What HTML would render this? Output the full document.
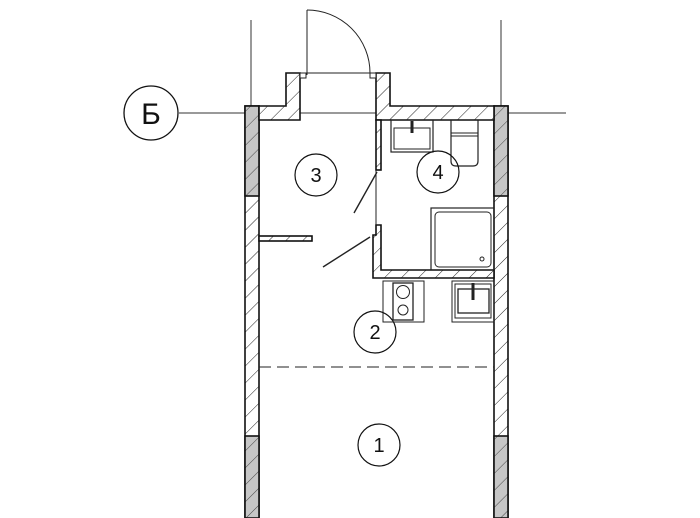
<!DOCTYPE html>
<html><head><style>html,body{margin:0;padding:0;background:#fff}svg{display:block}</style></head>
<body>
<svg width="700" height="518" viewBox="0 0 700 518" xmlns="http://www.w3.org/2000/svg">
<defs>
<pattern id="h" patternUnits="userSpaceOnUse" width="12" height="12" patternTransform="rotate(45)">
<rect width="12" height="12" fill="#fff"/><line x1="0" y1="0" x2="0" y2="12" stroke="#222" stroke-width="1"/>
</pattern>
<pattern id="hg" patternUnits="userSpaceOnUse" width="12" height="12" patternTransform="rotate(45)">
<rect width="12" height="12" fill="#c6c6c6"/><line x1="0" y1="0" x2="0" y2="12" stroke="#444" stroke-width="1"/>
</pattern>
</defs>
<g stroke="#333" stroke-width="1" fill="none">
<line x1="251" y1="20" x2="251" y2="518"/>
<line x1="501" y1="20" x2="501" y2="518"/>
<line x1="179" y1="113" x2="566" y2="113"/>
</g>
<circle cx="151" cy="113" r="27" fill="#fff" stroke="#111" stroke-width="1.3"/>
<text x="151" y="124" font-family="Liberation Sans, DejaVu Sans, sans-serif" font-size="30" text-anchor="middle" fill="#111">Б</text>
<g stroke="#111" stroke-width="1.6">
<rect x="245" y="106" width="14" height="412" fill="url(#h)"/>
<rect x="245" y="106" width="14" height="90" fill="url(#hg)"/>
<rect x="245" y="436" width="14" height="82" fill="url(#hg)"/>
<rect x="494" y="106" width="14" height="412" fill="url(#h)"/>
<rect x="494" y="106" width="14" height="90" fill="url(#hg)"/>
<rect x="494" y="436" width="14" height="82" fill="url(#hg)"/>
<path d="M259 106 H286 V73 H300 V120 H259 Z" fill="url(#h)"/>
<path d="M376 73 H390 V106 H494 V120 H376 Z" fill="url(#h)"/>
<rect x="376" y="120" width="5" height="50" fill="url(#h)"/>
<path d="M376 225 H381 V270 H494 V278 H373 V235 H376 Z" fill="url(#h)"/>
<rect x="259" y="236" width="53" height="5" fill="url(#h)"/>
</g>
<g stroke="#222" stroke-width="1" fill="none">
<rect x="300" y="73" width="6" height="5" fill="#fff"/>
<rect x="370" y="73" width="6" height="5" fill="#fff"/>
<line x1="307" y1="10" x2="307" y2="75"/>
<line x1="306" y1="73" x2="370" y2="73"/>
<path d="M307 10 A63 63 0 0 1 370 73"/>
<line x1="376" y1="170" x2="376" y2="225"/>
<line x1="377" y1="172" x2="354" y2="213" stroke-width="1.4"/>
<line x1="370" y1="237" x2="323" y2="267" stroke-width="1.4"/>
<line x1="259" y1="367" x2="494" y2="367" stroke-dasharray="12,6"/>
<rect x="391" y="120" width="42" height="32" stroke-width="1.2"/>
<rect x="394" y="128" width="36" height="21"/>
<line x1="412" y1="121" x2="412" y2="133" stroke-width="3"/>
<path d="M451 120 V161 Q451 166 456 166 H473 Q478 166 478 161 V120" stroke-width="1.2"/>
<line x1="451" y1="133" x2="478" y2="133"/>
<line x1="451" y1="136" x2="478" y2="136"/>
<rect x="431" y="208" width="63" height="62" stroke-width="1.2"/>
<rect x="435" y="212" width="56" height="55" rx="4"/>
<circle cx="482" cy="259" r="2"/>
<rect x="383" y="281" width="41" height="41"/>
<rect x="393" y="283" width="20" height="37" stroke-width="1.3"/>
<circle cx="403" cy="292" r="6.5"/>
<circle cx="403" cy="310" r="5"/>
<rect x="452" y="281" width="42" height="41"/>
<rect x="455" y="284" width="36" height="34"/>
<rect x="458" y="289" width="31" height="24" stroke-width="1.3"/>
<line x1="473" y1="283" x2="473" y2="300" stroke-width="3"/>
</g>
<g fill="none" stroke="#111" stroke-width="1.2">
<circle cx="316" cy="175" r="21"/>
<circle cx="438" cy="172" r="21"/>
<circle cx="375" cy="332" r="21"/>
<circle cx="379" cy="445" r="21"/>
</g>
<g font-family="Liberation Sans, DejaVu Sans, sans-serif" font-size="20" text-anchor="middle" fill="#111">
<text x="316" y="182">3</text>
<text x="438" y="179">4</text>
<text x="375" y="339">2</text>
<text x="379" y="452">1</text>
</g>
</svg>
</body></html>
